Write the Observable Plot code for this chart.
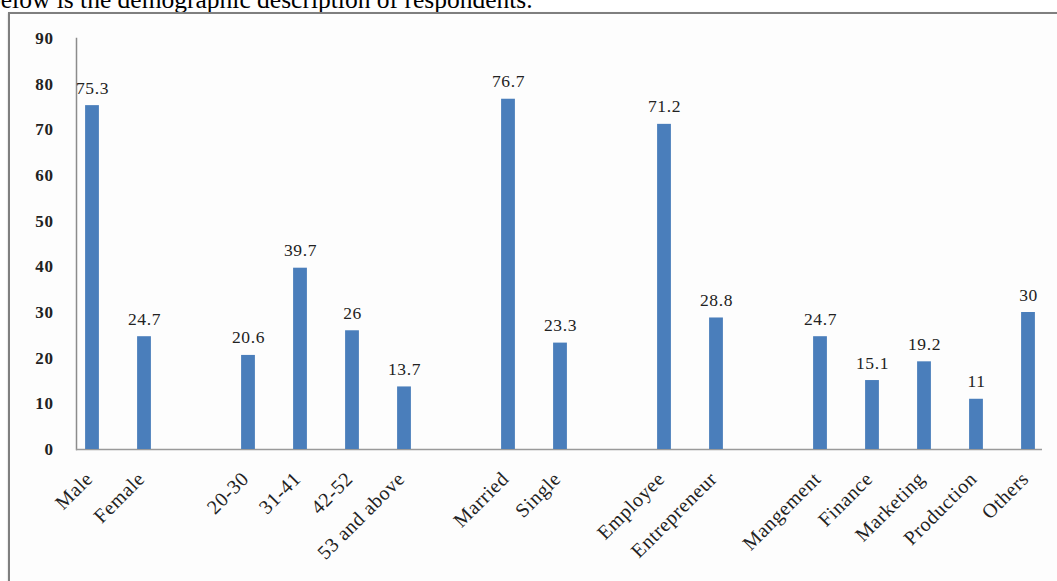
<!DOCTYPE html>
<html>
<head>
<meta charset="utf-8">
<script src="https://cdn.jsdelivr.net/npm/d3@7"></script>
<script src="https://cdn.jsdelivr.net/npm/@observablehq/plot@0.6"></script>
<style>
  html, body { margin: 0; padding: 0; background: #fff; overflow: hidden; width: 1057px; height: 581px; }
  #title { position: absolute; left: -12px; top: -13px; font: 25.5px/25px "Liberation Serif", serif; color: #000; white-space: nowrap; }
  #box { position: absolute; left: 8px; top: 12px; width: 1200px; height: 700px; border: 2px solid #7f7f7f; box-shadow: 0 1px 2px rgba(0,0,0,0.2); background: #fdfdfd; }
  #chart { position: absolute; left: 0; top: 0; }
  #chart text { font-family: "Liberation Serif", serif; }
</style>
</head>
<body>
<div id="title">below is the demographic description of respondents.</div>
<div id="box"></div>
<div id="chart"></div>
<script>
const categories = ["Male", "Female", " ", "20-30", "31-41", "42-52", "53 and above", "  ", "Married", "Single", "   ", "Employee", "Entrepreneur", "    ", "Mangement", "Finance", "Marketing", "Production", "Others"];
const values = [75.3, 24.7, null, 20.6, 39.7, 26, 13.7, null, 76.7, 23.3, null, 71.2, 28.8, null, 24.7, 15.1, 19.2, 11, 30];
const valueLabels = ["75.3", "24.7", "", "20.6", "39.7", "26", "13.7", "", "76.7", "23.3", "", "71.2", "28.8", "", "24.7", "15.1", "19.2", "11", "30"];
const yTicks = [0, 10, 20, 30, 40, 50, 60, 70, 80, 90];

const data = categories.map((c, i) => ({category: c, value: values[i], label: valueLabels[i]})).filter(d => d.value != null);

const chart = Plot.plot({
  width: 1057,
  height: 581,
  marginTop: 38,
  marginBottom: 132,
  marginLeft: 76,
  marginRight: 15,
  style: {background: "transparent", fontFamily: "'Liberation Serif', serif", color: "#000"},
  x: {type: "band", domain: categories, range: [63.9, 1055.8], padding: 0, label: null, axis: null},
  y: {domain: [0, 90], label: null, axis: null},
  marks: [
    Plot.frame({anchor: "left", stroke: "#8c8c8c", strokeWidth: 1.5}),
    Plot.ruleY([0], {stroke: "#9a9a9a", strokeWidth: 1.5}),
    Plot.barY(data, {x: "category", y: "value", fill: "#4a7ebb", insetLeft: 19.1, insetRight: 19.1}),
    Plot.text(data, {x: "category", y: "value", text: "label", lineAnchor: "bottom", dy: -12, fontSize: 17.5, fontFamily: "'Liberation Serif', serif", fill: "#222"}),
    Plot.axisY({ticks: yTicks, tickSize: 0, tickPadding: 23, fontSize: 17, fontWeight: "bold", fill: "#222"}),
    Plot.axisX({tickSize: 0, tickRotate: -45, tickPadding: 26, dx: -3, fontSize: 20, fill: "#222"})
  ]
});
chart.querySelectorAll("text").forEach(t => t.style.letterSpacing = "0.6px");
document.getElementById("chart").appendChild(chart);
</script>
</body>
</html>
